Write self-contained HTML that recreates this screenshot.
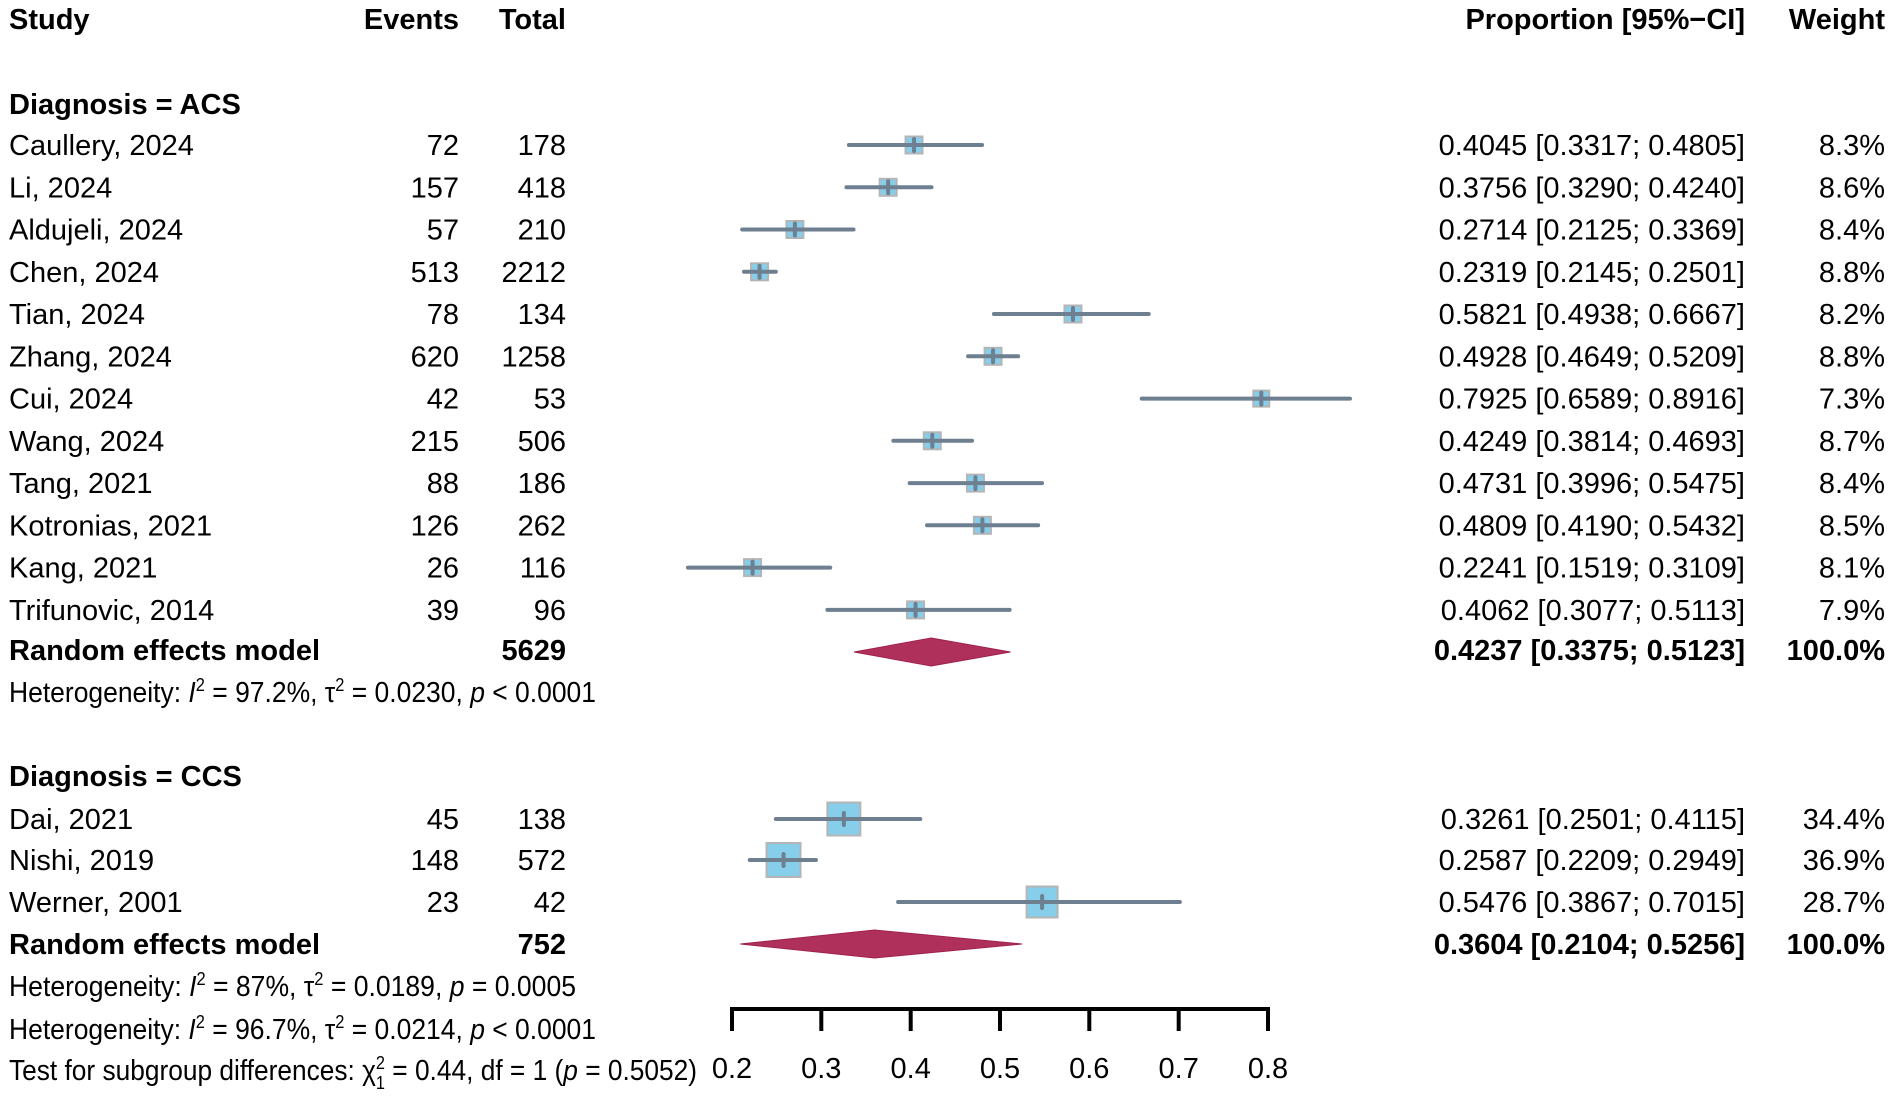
<!DOCTYPE html>
<html><head><meta charset="utf-8"><style>
html,body{margin:0;padding:0;background:#fff;}
svg{display:block;}
text{font-family:"Liberation Sans",Arial,sans-serif;font-size:29px;fill:#000;}
.b{font-weight:bold;}
.e{text-anchor:end;}
</style></head><body>
<svg width="1893" height="1097" viewBox="0 0 1893 1097" xmlns="http://www.w3.org/2000/svg">
<g id="hdr" class="b">
<text x="9" y="29" class="b">Study</text>
<text x="459" y="29" class="b e">Events</text>
<text x="566" y="29" class="b e">Total</text>
<text x="1745" y="29" class="b e">Proportion [95%−CI]</text>
<text x="1885" y="29" class="b e">Weight</text>
</g>
<text x="9" y="114" class="b">Diagnosis = ACS</text>
<text x="9" y="786" class="b">Diagnosis = CCS</text>

<g id="rows"></g>
<g id="plot"></g>

<text x="9" y="660" class="b">Random effects model</text>
<text x="566" y="660" class="b e">5629</text>
<text x="1745" y="660" class="b e">0.4237 [0.3375; 0.5123]</text>
<text x="1885" y="660" class="b e">100.0%</text>
<text x="9" y="702" textLength="587" lengthAdjust="spacingAndGlyphs">Heterogeneity: <tspan font-style="italic">I</tspan><tspan dy="-11" font-size="18">2</tspan><tspan dy="11"> = 97.2%, τ</tspan><tspan dy="-11" font-size="18">2</tspan><tspan dy="11"> = 0.0230, </tspan><tspan font-style="italic">p</tspan> &lt; 0.0001</text>

<text x="9" y="954" class="b">Random effects model</text>
<text x="566" y="954" class="b e">752</text>
<text x="1745" y="954" class="b e">0.3604 [0.2104; 0.5256]</text>
<text x="1885" y="954" class="b e">100.0%</text>
<text x="9" y="996" textLength="567" lengthAdjust="spacingAndGlyphs">Heterogeneity: <tspan font-style="italic">I</tspan><tspan dy="-11" font-size="18">2</tspan><tspan dy="11"> = 87%, τ</tspan><tspan dy="-11" font-size="18">2</tspan><tspan dy="11"> = 0.0189, </tspan><tspan font-style="italic">p</tspan> = 0.0005</text>
<text x="9" y="1039" textLength="587" lengthAdjust="spacingAndGlyphs">Heterogeneity: <tspan font-style="italic">I</tspan><tspan dy="-11" font-size="18">2</tspan><tspan dy="11"> = 96.7%, τ</tspan><tspan dy="-11" font-size="18">2</tspan><tspan dy="11"> = 0.0214, </tspan><tspan font-style="italic">p</tspan> &lt; 0.0001</text>
<text x="9" y="1080" textLength="688" lengthAdjust="spacingAndGlyphs">Test for subgroup differences: χ<tspan dy="-11" font-size="18">2</tspan><tspan dx="-10" dy="20" font-size="18">1</tspan><tspan dy="-9"> = 0.44, df = 1 (</tspan><tspan font-style="italic">p</tspan> = 0.5052)</text>

<polygon points="854.1,652 931.2,638 1010.5,652 931.2,666" fill="#b0305c" stroke="#a02050" stroke-width="1"/>
<polygon points="740.3,944 874.6,930 1022,944 874.6,958" fill="#b0305c" stroke="#a02050" stroke-width="1"/>

<g stroke="#000" stroke-width="4" fill="none" stroke-linecap="butt">
<line x1="732" y1="1009" x2="1268" y2="1009"/>
<line x1="732" y1="1007" x2="732" y2="1031"/>
<line x1="821.3" y1="1009" x2="821.3" y2="1031"/>
<line x1="910.7" y1="1009" x2="910.7" y2="1031"/>
<line x1="1000" y1="1009" x2="1000" y2="1031"/>
<line x1="1089.3" y1="1009" x2="1089.3" y2="1031"/>
<line x1="1178.7" y1="1009" x2="1178.7" y2="1031"/>
<line x1="1268" y1="1007" x2="1268" y2="1031"/>
</g>
<g style="text-anchor:middle">
<text x="732" y="1078">0.2</text><text x="821.3" y="1078">0.3</text><text x="910.7" y="1078">0.4</text><text x="1000" y="1078">0.5</text><text x="1089.3" y="1078">0.6</text><text x="1178.7" y="1078">0.7</text><text x="1268" y="1078">0.8</text>
</g>
<script>
var data=[
["Caullery, 2024",72,178,.4045,.3317,.4805,"8.3%",145,17],
["Li, 2024",157,418,.3756,.3290,.4240,"8.6%",187.3,17],
["Aldujeli, 2024",57,210,.2714,.2125,.3369,"8.4%",229.5,17],
["Chen, 2024",513,2212,.2319,.2145,.2501,"8.8%",271.8,17],
["Tian, 2024",78,134,.5821,.4938,.6667,"8.2%",314,17],
["Zhang, 2024",620,1258,.4928,.4649,.5209,"8.8%",356.3,17],
["Cui, 2024",42,53,.7925,.6589,.8916,"7.3%",398.6,16],
["Wang, 2024",215,506,.4249,.3814,.4693,"8.7%",440.8,17],
["Tang, 2021",88,186,.4731,.3996,.5475,"8.4%",483.1,17],
["Kotronias, 2021",126,262,.4809,.4190,.5432,"8.5%",525.3,17],
["Kang, 2021",26,116,.2241,.1519,.3109,"8.1%",567.6,17],
["Trifunovic, 2014",39,96,.4062,.3077,.5113,"7.9%",609.9,17],
["Dai, 2021",45,138,.3261,.2501,.4115,"34.4%",819,33],
["Nishi, 2019",148,572,.2587,.2209,.2949,"36.9%",860,34],
["Werner, 2001",23,42,.5476,.3867,.7015,"28.7%",902,31]];
var NS="http://www.w3.org/2000/svg",R=document.getElementById("rows"),P=document.getElementById("plot");
function t(x,y,s,end){var e=document.createElementNS(NS,"text");e.setAttribute("x",x);e.setAttribute("y",y);if(end)e.setAttribute("class","e");e.textContent=s;R.appendChild(e);}
function X(v){return 731+(v-0.2)*895;}
function el(n,a){var e=document.createElementNS(NS,n);for(var k in a)e.setAttribute(k,a[k]);P.appendChild(e);}
data.forEach(function(d){var y=d[7],b=y+10;
t(9,b,d[0]);t(459,b,d[1],1);t(566,b,d[2],1);
t(1745,b,d[3].toFixed(4)+" ["+d[4].toFixed(4)+"; "+d[5].toFixed(4)+"]",1);t(1885,b,d[6],1);
var s=d[8],cx=X(d[3]);
el("rect",{x:cx-s/2,y:y-s/2,width:s,height:s,fill:"#87ceeb",stroke:"#b5b5b5","stroke-width":2});
el("line",{x1:X(d[4]),y1:y,x2:X(d[5]),y2:y,stroke:"#6e7f90","stroke-width":4,"stroke-linecap":"round"});
el("line",{x1:cx,y1:y-6,x2:cx,y2:y+6,stroke:"#6e7f90","stroke-width":4,"stroke-linecap":"round"});
});
</script>
</svg>
</body></html>
